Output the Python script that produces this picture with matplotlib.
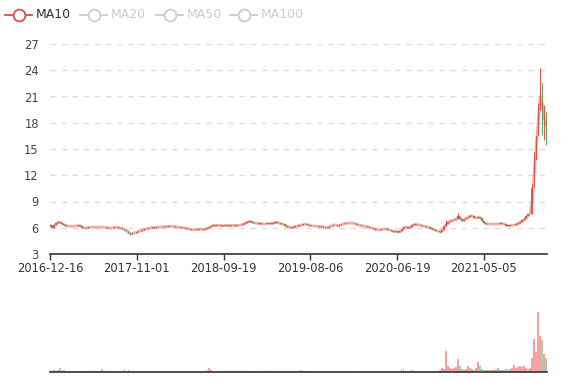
import matplotlib
matplotlib.use('Agg')
import numpy as np
import matplotlib.pyplot as plt
from matplotlib.lines import Line2D

# ── data (weekly bars) ────────────────────────────────────────────────

closes = [
    6.26, 6.02, 6.35, 6.55, 6.70, 6.58, 6.40, 6.28, 6.22, 6.18,
    6.15, 6.20, 6.17, 6.24, 6.27, 6.18, 6.02, 5.95, 6.00, 6.04,
    6.08, 6.06, 6.10, 6.07, 6.05, 6.09, 6.06, 6.03, 6.00, 5.98,
    5.97, 6.00, 6.05, 6.08, 6.02, 5.95, 5.88, 5.78, 5.60, 5.35,
    5.30, 5.38, 5.45, 5.50, 5.62, 5.68, 5.75, 5.86, 5.90, 5.97,
    6.02, 6.04, 6.00, 6.06, 6.10, 6.08, 6.12, 6.10, 6.14, 6.16,
    6.15, 6.18, 6.12, 6.08, 6.06, 6.02, 5.98, 5.96, 5.90, 5.84,
    5.78, 5.75, 5.80, 5.76, 5.82, 5.85, 5.80, 5.88, 5.95, 6.05,
    6.20, 6.28, 6.25, 6.30, 6.26, 6.22, 6.28, 6.25, 6.27, 6.24,
    6.26, 6.28, 6.25, 6.30, 6.28, 6.35, 6.45, 6.55, 6.68, 6.72,
    6.65, 6.58, 6.52, 6.50, 6.48, 6.45, 6.42, 6.44, 6.46, 6.45,
    6.48, 6.55, 6.66, 6.58, 6.50, 6.42, 6.38, 6.25, 6.12, 6.05,
    6.02, 6.08, 6.15, 6.22, 6.26, 6.32, 6.40, 6.42, 6.35, 6.25,
    6.22, 6.18, 6.20, 6.15, 6.14, 6.16, 6.05, 5.98, 6.00, 6.15,
    6.25, 6.34, 6.30, 6.24, 6.28, 6.38, 6.48, 6.54, 6.50, 6.52,
    6.55, 6.50, 6.40, 6.32, 6.26, 6.22, 6.18, 6.15, 6.10, 6.02,
    5.95, 5.88, 5.80, 5.72, 5.78, 5.85, 5.82, 5.86, 5.80, 5.72,
    5.62, 5.55, 5.60, 5.52, 5.58, 5.85, 6.12, 6.05, 5.98, 6.10,
    6.30, 6.40, 6.36, 6.32, 6.28, 6.22, 6.16, 6.10, 6.05, 5.96,
    5.85, 5.75, 5.68, 5.60, 5.52, 5.80, 6.15, 6.40, 6.70, 6.75,
    6.85, 6.92, 7.05, 7.30, 6.95, 6.80, 6.95, 7.10, 7.25, 7.40,
    7.30, 7.12, 7.15, 7.20, 7.15, 6.80, 6.50, 6.42, 6.45, 6.40,
    6.42, 6.45, 6.40, 6.44, 6.48, 6.46, 6.38, 6.25, 6.22, 6.26,
    6.28, 6.34, 6.40, 6.55, 6.70, 6.85, 7.05, 7.35, 7.55, 7.62,
    10.5, 13.8, 16.5, 19.5, 22.5, 18.0, 19.2, 16.2,
]
first_open = 6.20

# wicks that stick out of the bodies (bar index -> price)
wick_high = {197: 6.90, 203: 7.69, 209: 7.50, 240: 11.0, 241: 14.6,
             243: 20.2, 244: 24.3, 245: 20.2, 246: 20.0, 247: 18.5}
wick_low = {40: 5.20, 173: 5.45, 194: 5.45, 241: 12.3, 245: 16.6,
            246: 16.0, 247: 15.4}

volumes = [
    2.0, 1.5, 2.0, 1.5, 2.0, 4.5, 1.5, 2.0, 1.5, 1.2,
    1.5, 1.2, 1.0, 1.5, 1.2, 1.0, 1.5, 1.2, 1.0, 1.2,
    1.0, 1.2, 1.0, 0.8, 1.0, 1.2, 3.0, 1.2, 1.0, 0.8,
    1.0, 1.2, 0.8, 1.0, 1.2, 1.0, 1.5, 3.0, 1.5, 2.5,
    1.5, 1.2, 1.0, 1.2, 1.0, 0.8, 1.5, 1.0, 1.2, 0.8,
    1.0, 0.8, 1.2, 1.0, 0.8, 1.0, 1.2, 0.8, 1.0, 0.8,
    1.0, 0.8, 0.6, 0.8, 1.0, 0.8, 0.6, 0.8, 1.0, 0.8,
    0.6, 0.8, 1.0, 0.8, 1.0, 0.8, 1.0, 1.5, 2.0, 4.5,
    2.5, 1.5, 1.0, 1.2, 0.8, 1.0, 1.2, 0.8, 1.0, 1.2,
    1.0, 1.2, 0.8, 1.0, 1.2, 1.5, 1.0, 1.2, 1.5, 1.0,
    0.8, 1.0, 0.8, 0.6, 0.8, 1.0, 0.8, 0.6, 0.8, 0.6,
    0.8, 0.6, 0.8, 1.0, 0.8, 0.6, 0.8, 0.6, 0.8, 1.0,
    0.8, 0.6, 0.8, 1.0, 1.2, 2.0, 1.0, 0.8, 0.6, 0.8,
    0.6, 0.8, 0.6, 0.5, 0.6, 0.8, 0.6, 0.5, 0.6, 0.5,
    0.6, 0.5, 0.6, 0.8, 0.6, 0.5, 0.6, 0.5, 0.6, 0.8,
    0.6, 0.5, 0.6, 0.5, 0.6, 0.8, 0.6, 0.5, 0.6, 0.8,
    1.0, 0.8, 1.0, 1.5, 1.2, 1.0, 1.2, 1.0, 0.8, 1.0,
    1.2, 1.5, 1.2, 1.0, 1.5, 2.0, 3.0, 1.5, 1.2, 1.5,
    2.0, 2.5, 1.5, 1.2, 1.5, 1.0, 1.2, 1.5, 1.2, 1.0,
    1.2, 1.5, 1.2, 1.5, 2.5, 4.0, 3.0, 21.0, 6.0, 4.0,
    3.0, 4.0, 5.0, 13.0, 6.0, 3.0, 2.5, 3.0, 6.0, 4.0,
    3.0, 2.5, 4.0, 10.0, 6.0, 3.0, 2.5, 2.0, 2.5, 2.0,
    2.0, 2.5, 3.0, 4.0, 2.5, 2.0, 2.5, 3.0, 2.5, 3.0,
    4.0, 7.0, 4.0, 5.0, 6.0, 5.5, 6.0, 4.5, 3.5, 4.0,
    14.0, 33.0, 20.0, 60.0, 36.0, 32.0, 18.0, 14.0,
]

tick_labels = ["2016-12-16", "2017-11-01", "2018-09-19",
               "2019-08-06", "2020-06-19", "2021-05-05"]
label_interval = 216      # trading days between x labels
days_per_bar = 5          # one bar = one week of trading days
n_days = 1238

legend_names = ["MA10", "MA20", "MA50", "MA100"]

# ── derived series ────────────────────────────────────────────────────

closes = np.array(closes)
opens = np.concatenate([[first_open], closes[:-1]])
highs = np.maximum(opens, closes)
lows = np.minimum(opens, closes)
for k, v in wick_high.items():
    highs[k] = v
for k, v in wick_low.items():
    lows[k] = v
ma10 = np.convolve(closes, np.ones(2) / 2, mode="full")[:len(closes)]
ma10[0] = closes[0]

x = np.arange(len(closes)) * days_per_bar
up = closes >= opens
UP, DOWN = "#eb5454", "#47b262"
colors = np.where(up, UP, DOWN)

# ── figure ────────────────────────────────────────────────────────────

W, H = 577, 380
fig = plt.figure(figsize=(W / 100, H / 100), dpi=100)
ax = fig.add_axes([50 / W, (H - 254) / H, 497 / W, 210 / H])
axv = fig.add_axes([50 / W, (H - 372) / H, 497 / W, 80 / H])

# price panel
body_w = 3.2
body_lo = np.minimum(opens, closes)
body_h = np.maximum(np.abs(closes - opens), 0.05)
ax.vlines(x, lows, highs, colors=colors, lw=0.8, zorder=2)
ax.bar(x, body_h, bottom=body_lo, width=body_w, color=colors,
       alpha=0.9, lw=0, zorder=3)
ax.plot(x, ma10, color="#dd4b39", lw=2.0, alpha=0.45, zorder=4,
        solid_capstyle="round")

ax.set_xlim(0, n_days - 1)
ax.set_ylim(3, 27)
ax.set_yticks(np.arange(3, 28, 3))
ax.yaxis.grid(True, color="#dddddd", lw=1, ls=(0, (4, 4)))
ax.set_axisbelow(True)
for s in ["top", "right", "left"]:
    ax.spines[s].set_visible(False)
ax.spines["bottom"].set_color("#333333")
ax.spines["bottom"].set_linewidth(1.2)
ax.tick_params(axis="y", length=0, labelsize=8.3, labelcolor="#444444", pad=8)
ticks = np.arange(len(tick_labels)) * label_interval
ax.set_xticks(ticks)
ax.set_xticklabels(tick_labels)
ax.tick_params(axis="x", length=4, width=1, color="#333333",
               labelsize=8.3, labelcolor="#333333", pad=2)

# volume panel
axv.bar(x, volumes, width=4, color=colors, alpha=0.55, lw=0)
axv.set_xlim(0, n_days - 1)
axv.set_ylim(0, 80)
axv.set_xticks([])
axv.set_yticks([])
for s in ["top", "right", "left"]:
    axv.spines[s].set_visible(False)
axv.spines["bottom"].set_color("#333333")
axv.spines["bottom"].set_linewidth(1.2)

# legend (MA10 active, the others switched off)
legend_x = [5, 80, 156, 230]
for name, lx in zip(legend_names, legend_x):
    c = "#d94e45" if name == "MA10" else "#cccccc"
    tc = "#333333" if name == "MA10" else "#cccccc"
    y = (H - 15) / H
    fig.add_artist(Line2D([lx / W, (lx + 27) / W], [y, y], color=c, lw=1.3,
                          transform=fig.transFigure))
    fig.add_artist(Line2D([(lx + 13.5) / W], [y], marker="o", ms=8.5,
                          mfc="white", mec=c, mew=1.3,
                          transform=fig.transFigure))
    fig.text((lx + 31) / W, y, name, color=tc, fontsize=9, va="center",
             ha="left")

plt.savefig("out.png", dpi=100)
